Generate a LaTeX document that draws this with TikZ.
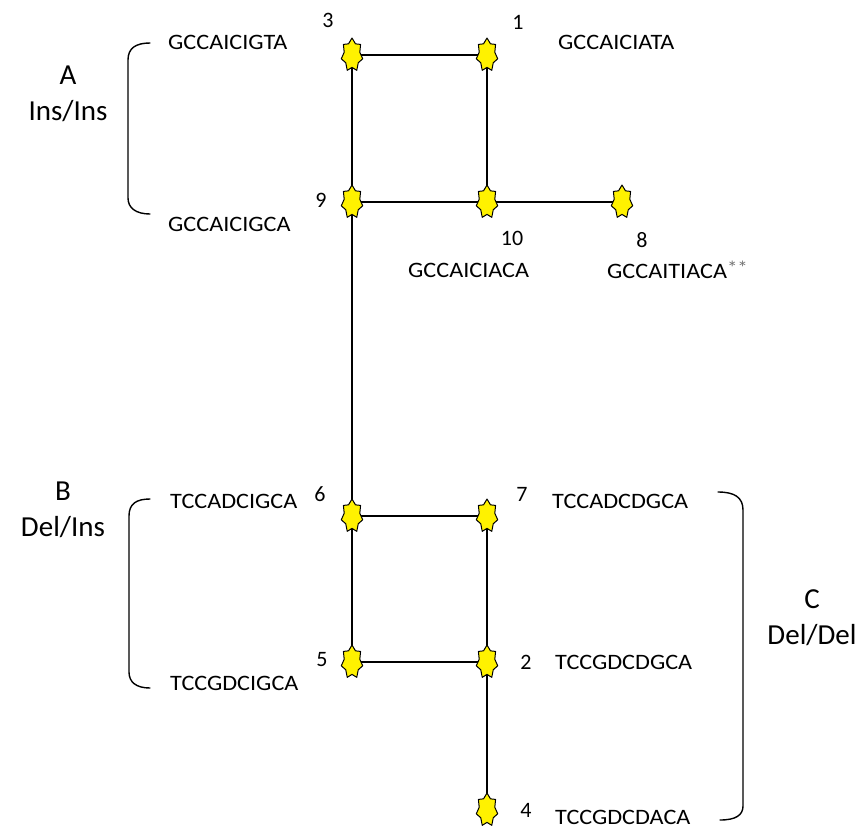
\documentclass[tikz,border=0pt]{standalone}
\usepackage{fontspec}
\setmainfont{Carlito}
\newfontfamily\seqfont[FakeStretch=1.1]{Carlito}
\begin{document}
\begin{tikzpicture}[x=1pt,y=-1pt,
  edge/.style={line width=1.6pt, black},
  brk/.style={line width=1.4pt, black, line cap=round},
  seq/.style={anchor=west, inner sep=0pt, font=\seqfont\fontsize{22}{24}\selectfont},
  num/.style={inner sep=0pt, font=\fontsize{22}{24}\selectfont},
  grp/.style={inner sep=0pt, align=center, font=\fontsize{29}{36}\selectfont},
  starpic/.pic={
    \draw[fill=yellow, line width=1pt, line join=round]
      (0,-17) \foreach \k in {1,...,13} {
        -- ({(mod(\k,2)==0 ? 11 : 8)*cos(90+\k*360/14)}, {-(mod(\k,2)==0 ? 17 : 12.4)*sin(90+\k*360/14)})
      } -- cycle;
  }]
\useasboundingbox (0,0) rectangle (862,831);
% star positions
\coordinate (n3) at (352,55);
\coordinate (n1) at (487,55);
\coordinate (n9) at (352,202);
\coordinate (n10) at (487,202);
\coordinate (n8) at (622,202);
\coordinate (n6) at (352,516);
\coordinate (n7) at (487,516);
\coordinate (n5) at (352,662);
\coordinate (n2) at (487,662);
\coordinate (n4) at (487,810);
% connectors
\draw[edge] (n3) -- (n1);
\draw[edge] (n3) -- (n9);
\draw[edge] (n1) -- (n10);
\draw[edge] (n9) -- (n10);
\draw[edge] (n10) -- (n8);
\draw[edge] (n9) -- (n6);
\draw[edge] (n6) -- (n7);
\draw[edge] (n6) -- (n5);
\draw[edge] (n7) -- (n2);
\draw[edge] (n5) -- (n2);
\draw[edge] (n2) -- (n4);
% stars
\foreach \n in {n3,n1,n9,n10,n8,n6,n7,n5,n2,n4} { \pic at (\n) {starpic}; }
% numbers
\node[num] (l3) at (328,20) {3};
\node[num] (l1) at (518,22) {1};
\node[num] (l9) at (321,200) {9};
\node[num] (l10) at (512,238) {10};
\node[num] (l8) at (642,240) {8};
\node[num] (l6) at (320,494) {6};
\node[num] (l7) at (522,494) {7};
\node[num] (l5) at (322,660) {5};
\node[num] (l2) at (526,662) {2};
\node[num] (l4) at (526,810) {4};
% sequences
\node[seq] (s3) at (168,42) {GCCAICIGTA};
\node[seq] (s1) at (558,42) {GCCAICIATA};
\node[seq] (s9) at (168,224) {GCCAICIGCA};
\node[seq] (s10) at (408,270) {GCCAICIACA};
\node[seq] (s8) at (607,270) {GCCAITIACA\textcolor{black!55}{\raisebox{4pt}{\fontsize{19}{19}\selectfont**}}};
\node[seq] (s6) at (170,501) {TCCADCIGCA};
\node[seq] (s7) at (552,501) {TCCADCDGCA};
\node[seq] (s5) at (170,683) {TCCGDCIGCA};
\node[seq] (s2) at (555,662) {TCCGDCDGCA};
\node[seq] (s4) at (555,817) {TCCGDCDACA};
% group labels
\node[grp] (gA) at (68,94) {A\\Ins/Ins};
\node[grp] (gB) at (63,510) {B\\Del/Ins};
\node[grp] (gC) at (812,618) {C\\Del/Del};
% brackets
\draw[brk] (150,43) .. controls (136,43) and (128,48) .. (128,60) -- (128,198) .. controls (128,208) and (136,214) .. (150,214);
\draw[brk] (150,499) .. controls (136,499) and (129,504) .. (129,516) -- (129,672) .. controls (129,682) and (136,688) .. (150,688);
\draw[brk] (718,492) .. controls (734,492) and (743,497) .. (743,510) -- (743,806) .. controls (743,815) and (736,820) .. (720,820);
\end{tikzpicture}
\end{document}
